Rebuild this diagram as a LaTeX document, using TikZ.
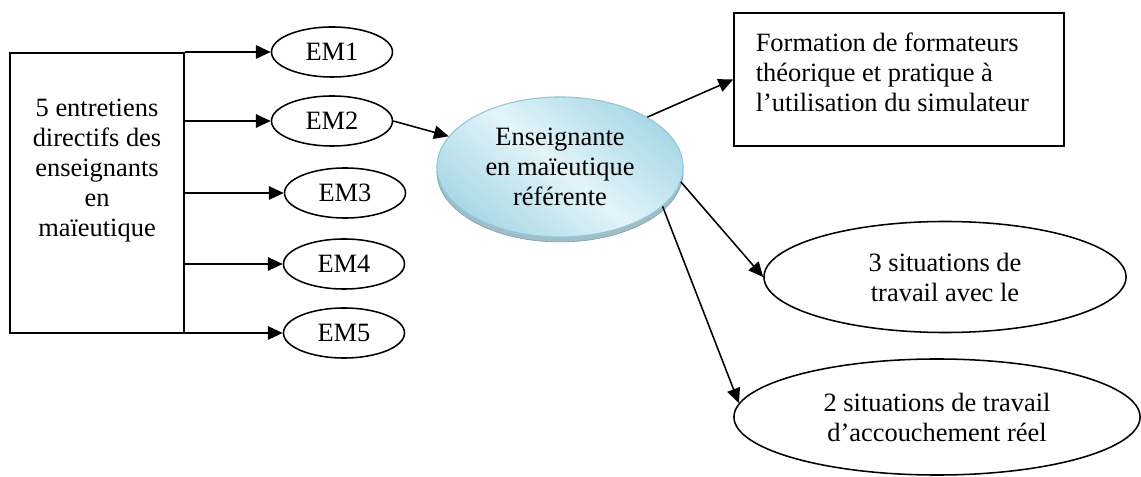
\documentclass[tikz,border=0pt]{standalone}
\usepackage{fontspec}
\setmainfont{Liberation Serif}
\usetikzlibrary{arrows.meta,shapes.geometric,shadows}
\definecolor{bleufonce}{HTML}{A9D8E6}
\definecolor{bleuclair}{HTML}{E2F4F9}
\definecolor{bleubord}{HTML}{8CCADC}
\definecolor{bleugris}{HTML}{A3BDC7}
\begin{document}
\begin{tikzpicture}[x=0.025cm,y=-0.025cm,>={Triangle[length=10.5pt,width=9.5pt]},
  line width=1.1pt,font=\fontsize{18.8}{21.3}\selectfont,
  em/.style={draw,ellipse,inner sep=0pt,minimum width=3.025cm,minimum height=1.25cm},
  sit/.style={draw,ellipse,inner sep=0pt,align=center},
  boite/.style={draw,rectangle,inner sep=0pt},
  texte/.style={inner sep=0pt}]
  \useasboundingbox (0,0) rectangle (1141,477);
  % Noeuds
  \node[boite,minimum width=4.35cm,minimum height=7cm] (ent) at (97,193) {};
  \node[texte,anchor=north,align=center] (enttxt) at (97,98) {5 entretiens\\directifs des\\enseignants\\en\\maïeutique};
  \node[em] (em1) at (332,52) {EM1};
  \node[em] (em2) at (332,121) {EM2};
  \node[em] (em3) at (345,193) {EM3};
  \node[em] (em4) at (344,264) {EM4};
  \node[em] (em5) at (344,333) {EM5};
  \node[ellipse,draw=bleubord,line width=0.8pt,shading=axis,top color=bleufonce,
    bottom color=bleufonce,middle color=bleuclair,shading angle=-40,
    general shadow={fill=bleugris,draw=bleugris!80!black,line width=0.4pt,shadow yshift=-3.5pt},
    minimum width=6.15cm,minimum height=3.5cm,inner sep=0pt,align=center]
    (ref) at (560,167) {Enseignante\\en maïeutique\\référente};
  \node[boite,minimum width=8.25cm,minimum height=3.325cm] (form) at (899,79.5) {};
  \node[texte,anchor=north west,align=left] (formtxt) at (755,32) {Formation de formateurs\\théorique et pratique à\\l’utilisation du simulateur};
  \node[sit,minimum width=9.05cm,minimum height=2.775cm] (sit3) at (945,277) {3 situations de\\travail avec le};
  \node[sit,minimum width=10.15cm,minimum height=2.9cm] (sit2) at (937,417) {2 situations de travail\\d’accouchement réel};

  % Fleches
  \foreach \n in {1,...,5}
    \draw[->] (ent.east |- em\n.west) -- (em\n.west);
  \draw[->] (em2.east) -- (ref);
  \draw[->] (ref.north east) -- (form.west);
  \draw[->] (ref.-7) -- (sit3.west);
  \draw[->] (ref.-21) -- (sit2.176);
\end{tikzpicture}
\end{document}
